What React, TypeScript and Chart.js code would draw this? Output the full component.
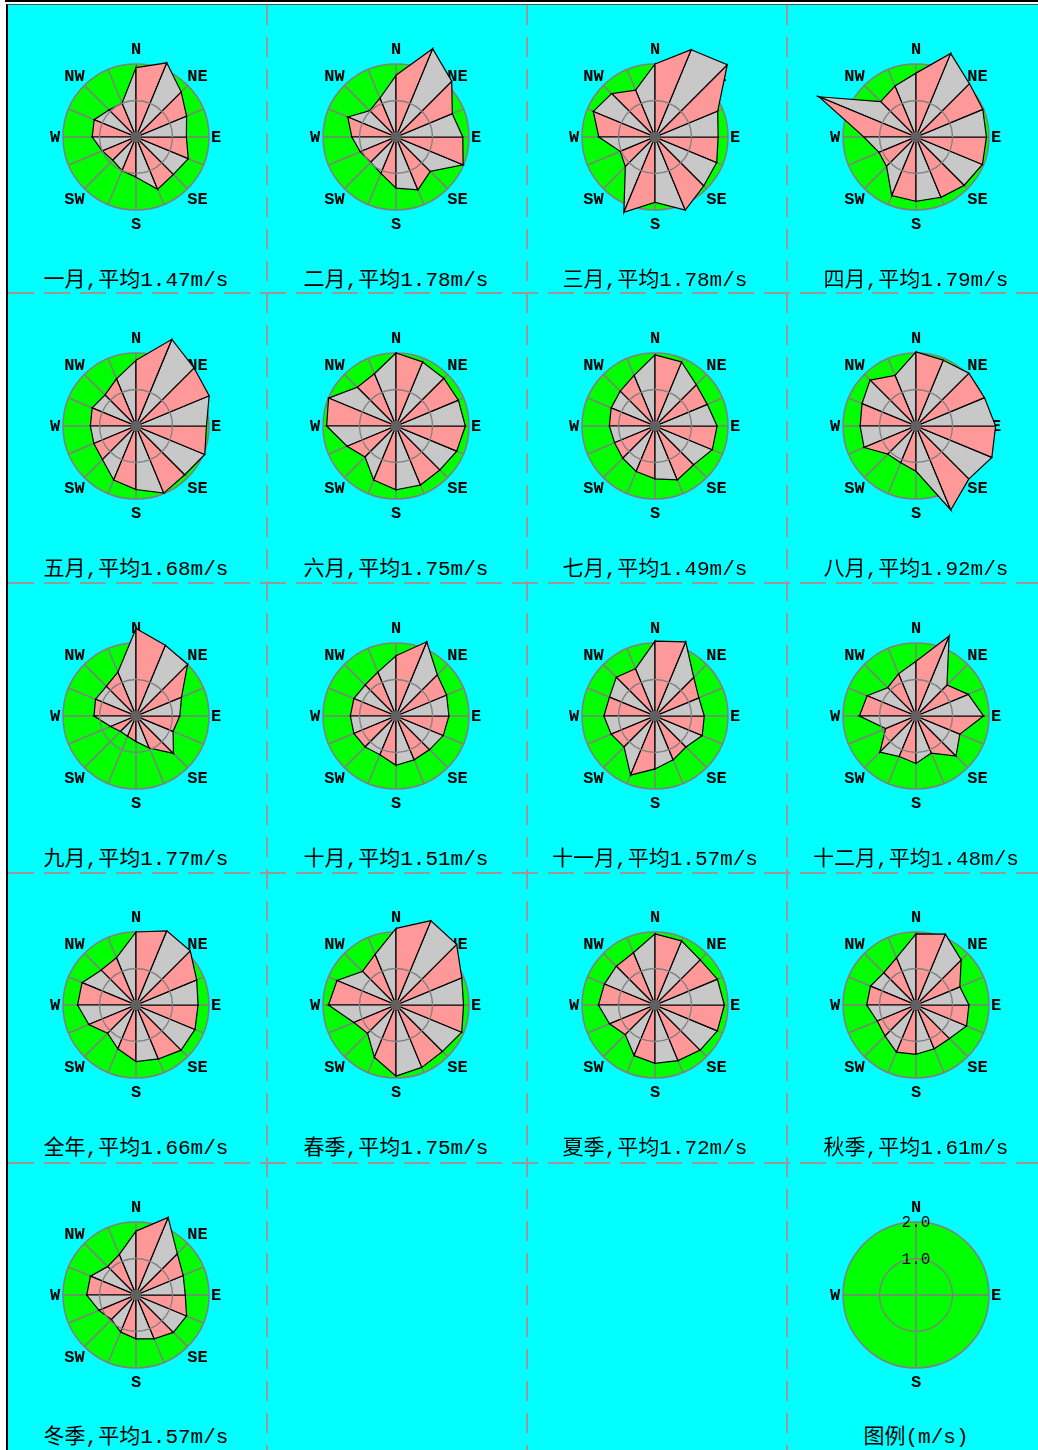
import React, { useEffect, useRef } from 'react';
import { Chart, registerables } from 'chart.js';

Chart.register(...registerables);

// 16 compass directions, clockwise from north
const DIRECTIONS = ['N', 'NNE', 'NE', 'ENE', 'E', 'ESE', 'SE', 'SSE', 'S', 'SSW', 'SW', 'WSW', 'W', 'WNW', 'NW', 'NNW'];

// mean wind speed per direction (m/s)
const JAN = [1.9, 2.2, 1.75, 1.5, 1.38, 1.55, 1.45, 1.55, 1.1, 1.0, 0.9, 1.0, 1.2, 1.24, 1.05, 1.0];
const FEB = [1.69, 2.62, 2.16, 1.67, 1.83, 1.99, 1.33, 1.57, 1.4, 1.08, 0.98, 1.06, 1.21, 1.43, 1.02, 1.15];
const MAR = [2.0, 2.59, 2.8, 1.86, 1.73, 1.83, 1.89, 2.17, 1.79, 2.23, 1.15, 1.03, 1.54, 1.83, 1.68, 1.39];
const APR = [1.75, 2.48, 2.07, 1.98, 1.93, 1.97, 1.87, 1.79, 1.76, 1.74, 1.14, 1.1, 1.43, 2.88, 1.37, 1.51];
const MAY = [1.8, 2.57, 2.25, 2.17, 1.93, 2.04, 1.89, 1.99, 1.74, 1.6, 1.3, 1.25, 1.25, 1.3, 1.2, 1.4];
const JUN = [2.0, 1.9, 1.85, 1.85, 1.9, 1.8, 1.7, 1.75, 1.75, 1.6, 1.2, 1.45, 1.9, 2.0, 1.5, 1.55];
const JUL = [1.95, 1.9, 1.6, 1.55, 1.7, 1.7, 1.5, 1.6, 1.45, 1.35, 1.25, 1.2, 1.25, 1.3, 1.35, 1.5];
const AUG = [2.03, 1.95, 2.05, 2.03, 2.18, 2.25, 2.05, 2.49, 1.24, 1.09, 1.09, 1.54, 1.53, 1.6, 1.78, 1.5];
const SEP = [2.4, 2.1, 2.0, 1.35, 1.2, 1.1, 1.45, 0.95, 0.7, 0.6, 0.6, 0.75, 1.15, 1.2, 1.15, 1.3];
const OCT = [1.65, 2.2, 1.6, 1.5, 1.45, 1.4, 1.3, 1.3, 1.35, 1.15, 1.2, 1.25, 1.25, 1.25, 1.2, 1.3];
const NOV = [2.05, 2.2, 1.5, 1.3, 1.35, 1.4, 1.2, 1.3, 1.45, 1.75, 1.2, 1.3, 1.4, 1.35, 1.5, 1.4];
const DEC = [1.5, 2.37, 1.2, 1.55, 1.85, 1.3, 1.55, 1.1, 1.3, 1.2, 1.4, 0.9, 1.55, 1.45, 1.1, 1.25];
const YEAR = [2.0, 2.2, 2.1, 1.8, 1.7, 1.75, 1.75, 1.6, 1.55, 1.3, 1.1, 1.4, 1.6, 1.6, 1.35, 1.4];
const SPRING = [2.1, 2.5, 2.35, 1.95, 1.85, 1.95, 1.8, 1.85, 1.95, 1.55, 1.1, 1.25, 1.85, 1.75, 1.3, 1.5];
const SUMMER = [1.95, 1.9, 1.75, 1.85, 1.9, 1.85, 1.75, 1.65, 1.6, 1.5, 1.15, 1.35, 1.55, 1.5, 1.5, 1.55];
const AUTUMN = [1.95, 2.1, 1.75, 1.3, 1.45, 1.5, 1.3, 1.3, 1.35, 1.4, 1.2, 1.15, 1.35, 1.35, 1.25, 1.4];
const WINTER = [1.75, 2.3, 1.6, 1.4, 1.35, 1.5, 1.45, 1.3, 1.2, 1.1, 0.95, 1.1, 1.35, 1.35, 1.1, 1.2];

const TITLES = [
  '一月,平均1.47m/s', '二月,平均1.78m/s', '三月,平均1.78m/s', '四月,平均1.79m/s',
  '五月,平均1.68m/s', '六月,平均1.75m/s', '七月,平均1.49m/s', '八月,平均1.92m/s',
  '九月,平均1.77m/s', '十月,平均1.51m/s', '十一月,平均1.57m/s', '十二月,平均1.48m/s',
  '全年,平均1.66m/s', '春季,平均1.75m/s', '夏季,平均1.72m/s', '秋季,平均1.61m/s',
  '冬季,平均1.57m/s',
];
const SERIES = [JAN, FEB, MAR, APR, MAY, JUN, JUL, AUG, SEP, OCT, NOV, DEC, YEAR, SPRING, SUMMER, AUTUMN, WINTER];

const LEGEND_TITLE = '图例(m/s)';
const LEGEND_TICKS = [1, 2];
const DISC_VALUE = 2; // radius of the green disc, m/s
const RING_VALUE = 1; // inner reference ring, m/s

// layout
const CANVAS = 260;
const PX_PER_UNIT = 36.5;
const R_MAX = CANVAS / 2 / PX_PER_UNIT; // scale max so that 2.0 m/s sits at 73 px
const COL_X = [136, 396, 655, 916];
const ROW_Y = [137, 426, 716, 1005, 1295];
const TITLE_Y = [281, 570, 860, 1149, 1438];
const V_LINES = [266, 526, 786];
const H_LINES = [292, 582, 872, 1162];

const PINK = '#ff9999';
const GREYFILL = '#c8c8c8';
const SPOKE = '#808080';
const GREEN = '#00ff00';
const CYAN = '#00ffff';
const CLEAR = 'rgba(0,0,0,0)';

const LABEL_DIST: Record<number, number> = { 0: 88, 2: 87, 4: 80, 6: 87, 8: 87, 10: 87, 12: 81, 14: 87 };

const dirLabelPlugin = {
  id: 'dirLabels',
  beforeDatasetsDraw(chart: any, _args: any, opts: any) {
    const s = chart.scales.r;
    const ctx = chart.ctx;
    ctx.save();
    ctx.fillStyle = '#000';
    ctx.textAlign = 'center';
    ctx.textBaseline = 'middle';
    ctx.font = 'bold 17px "Liberation Mono", "DejaVu Sans Mono", monospace';
    for (let i = 0; i < DIRECTIONS.length; i += opts.step) {
      const p = s.getPointPosition(i, LABEL_DIST[i]);
      ctx.fillText(DIRECTIONS[i], p.x, p.y + 1);
    }
    ctx.restore();
  },
  afterDraw(chart: any, _args: any, opts: any) {
    if (!opts.ticks) return;
    const s = chart.scales.r;
    const ctx = chart.ctx;
    ctx.save();
    ctx.fillStyle = '#000';
    ctx.textAlign = 'center';
    ctx.textBaseline = 'middle';
    ctx.font = '16px "Liberation Mono", "DejaVu Sans Mono", monospace';
    opts.ticks.forEach((v: number) => {
      const p = s.getPointPosition(0, s.getDistanceFromCenterForValue(v));
      ctx.fillText(v.toFixed(1), p.x, p.y + 1);
    });
    ctx.restore();
  },
};

function spokeDataset(every: number, offset: number) {
  return {
    data: DIRECTIONS.map((_, k) => (k % every === offset ? DISC_VALUE : 0)),
    fill: false,
    borderColor: SPOKE,
    borderWidth: 1.5,
    pointRadius: 0,
    clip: false,
    order: 5,
  };
}

function buildDatasets(values: number[] | null) {
  if (!values) return [spokeDataset(4, 0)];
  const n = values.length;
  const ds: any[] = [];
  for (let i = 0; i < n; i++) {
    const j = (i + 1) % n;
    const data = values.map((v, k) => (k === i || k === j ? v : 0));
    ds.push({
      data,
      fill: 'origin',
      backgroundColor: i % 2 === 0 ? PINK : GREYFILL,
      borderColor: '#000',
      borderWidth: 1.2,
      pointRadius: 0,
      clip: false,
      order: 2,
    });
  }
  ds.push(spokeDataset(2, 0));
  ds.push(spokeDataset(2, 1));
  ds.push({
    data: values.map(() => 0),
    showLine: false,
    fill: false,
    pointRadius: 5,
    pointBorderWidth: 0,
    pointBackgroundColor: '#606060',
    clip: false,
    order: 0,
  });
  return ds;
}

function Rose({ values, legend }: { values: number[] | null; legend: boolean }) {
  const ref = useRef<HTMLCanvasElement>(null);
  useEffect(() => {
    if (!ref.current) return;
    const step = legend ? 4 : 2;
    const chart = new Chart(ref.current, {
      type: 'radar',
      data: { labels: DIRECTIONS, datasets: buildDatasets(values) },
      options: {
        animation: false,
        responsive: false,
        devicePixelRatio: 1,
        layout: { padding: 0 },
        elements: { line: { tension: 0 } },
        plugins: {
          legend: { display: false },
          tooltip: { enabled: false },
          dirLabels: { step, ticks: legend ? LEGEND_TICKS : null },
        } as any,
        scales: {
          r: {
            min: 0,
            max: R_MAX,
            ticks: { display: false, stepSize: 1 },
            pointLabels: { display: false },
            angleLines: { display: false },
            grid: {
              circular: true,
              // the green disc is a stroke of width 2 units centred on the 1.0 ring
              lineWidth: (c: any) =>
                c.tick && c.tick.value === RING_VALUE ? DISC_VALUE * PX_PER_UNIT : 1.5,
              color: (c: any) =>
                c.tick && c.tick.value === RING_VALUE
                  ? GREEN
                  : c.tick && c.tick.value === DISC_VALUE
                  ? SPOKE
                  : CLEAR,
            },
          },
          r2: {
            type: 'radialLinear',
            min: 0,
            max: R_MAX,
            ticks: { display: false, stepSize: 1 },
            pointLabels: { display: false },
            angleLines: { display: false },
            grid: {
              z: legend ? -1 : 1,
              circular: true,
              lineWidth: 1.3,
              color: (c: any) => (c.tick && c.tick.value === RING_VALUE ? SPOKE : CLEAR),
            },
          },
        } as any,
      },
      plugins: [dirLabelPlugin],
    });
    return () => chart.destroy();
  }, [values, legend]);
  return <canvas ref={ref} width={CANVAS} height={CANVAS} style={{ width: CANVAS, height: CANVAS, display: 'block' }} />;
}

const titleFont = '"Liberation Mono", "Noto Sans CJK SC", monospace';

export default function App() {
  const cells: { values: number[] | null; title: string; legend: boolean; col: number; row: number }[] = SERIES.map(
    (v, i) => ({ values: v, title: TITLES[i], legend: false, col: i % 4, row: Math.floor(i / 4) })
  );
  cells.push({ values: null, title: LEGEND_TITLE, legend: true, col: 3, row: 4 });

  return (
    <div style={{ position: 'absolute', left: 0, top: 0, width: 1038, height: 1450, background: '#fff', overflow: 'hidden' }}>
      <div style={{ position: 'absolute', left: 5, top: 0, width: 1033, height: 2, background: '#000' }} />
      <div
        style={{
          position: 'absolute',
          left: 6,
          top: 4,
          width: 1032,
          height: 1446,
          background: CYAN,
          borderLeft: '2px solid #000',
          borderTop: '1px solid #505050',
          boxSizing: 'border-box',
        }}
      />
      {V_LINES.map((x) => (
        <div
          key={'v' + x}
          style={{
            position: 'absolute',
            left: x,
            top: 5,
            width: 2,
            height: 1445,
            background: 'repeating-linear-gradient(to bottom, #999999 0px, #999999 20px, rgba(153,153,153,0) 20px, rgba(153,153,153,0) 32px)',
          }}
        />
      ))}
      {H_LINES.map((y) => (
        <div
          key={'h' + y}
          style={{
            position: 'absolute',
            left: 8,
            top: y,
            width: 1030,
            height: 2,
            background: 'repeating-linear-gradient(to right, #999999 0px, #999999 26px, rgba(153,153,153,0) 26px, rgba(153,153,153,0) 36px)',
          }}
        />
      ))}
      {cells.map((c, i) => (
        <React.Fragment key={i}>
          <div style={{ position: 'absolute', left: COL_X[c.col] - CANVAS / 2, top: ROW_Y[c.row] - CANVAS / 2 }}>
            <Rose values={c.values} legend={c.legend} />
          </div>
          <div
            style={{
              position: 'absolute',
              left: COL_X[c.col] - 130,
              width: 260,
              top: TITLE_Y[c.row] - 13,
              height: 26,
              lineHeight: '26px',
              textAlign: 'center',
              fontFamily: titleFont,
              fontSize: 21,
              color: '#000',
              whiteSpace: 'nowrap',
            }}
          >
            {c.title}
          </div>
        </React.Fragment>
      ))}
    </div>
  );
}
